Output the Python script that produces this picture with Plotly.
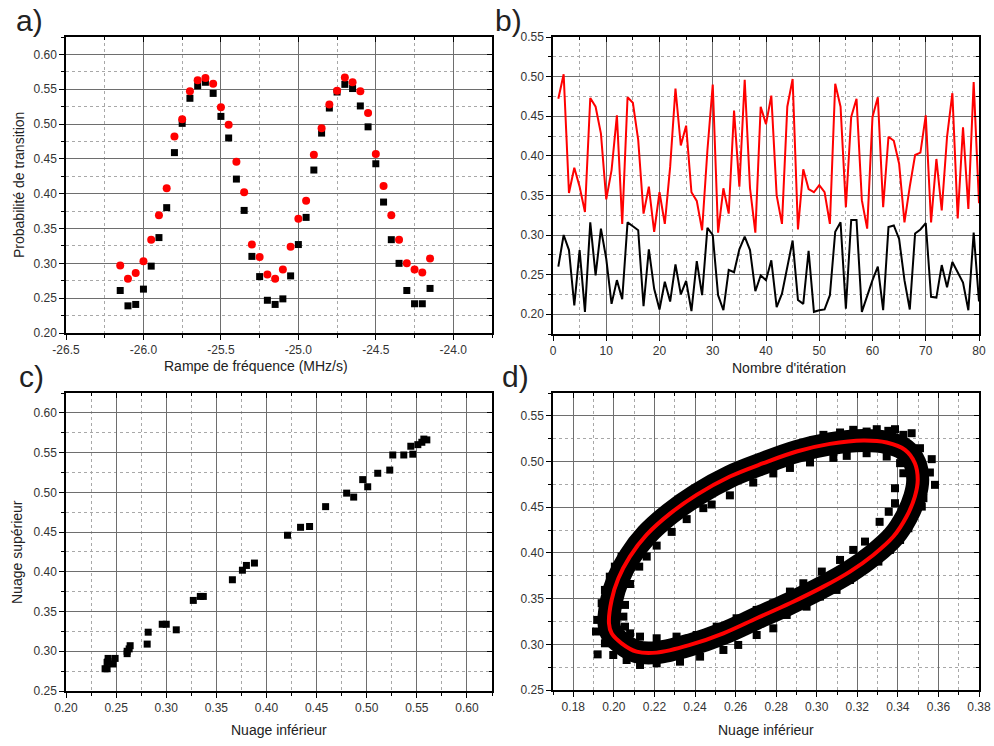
import plotly.graph_objects as go

# ---------------- data ----------------
# panel a: frequency ramp (MHz/s)
ramp = [-26.15, -26.10, -26.05, -26.00, -25.95, -25.90, -25.85, -25.80, -25.75, -25.70,
        -25.65, -25.60, -25.55, -25.50, -25.45, -25.40, -25.35, -25.30, -25.25, -25.20,
        -25.15, -25.10, -25.05, -25.00, -24.95, -24.90, -24.85, -24.80, -24.75, -24.70,
        -24.65, -24.60, -24.55, -24.50, -24.45, -24.40, -24.35, -24.30, -24.25, -24.20,
        -24.15]
p_upper = [0.297, 0.278, 0.286, 0.303, 0.334, 0.369, 0.408, 0.482, 0.507, 0.547,
           0.563, 0.566, 0.558, 0.524, 0.499, 0.446, 0.402, 0.327, 0.309, 0.284,
           0.278, 0.291, 0.324, 0.364, 0.390, 0.456, 0.494, 0.528, 0.548, 0.567,
           0.560, 0.547, 0.516, 0.457, 0.411, 0.369, 0.334, 0.300, 0.291, 0.287,
           0.307]
p_lower = [0.261, 0.239, 0.241, 0.263, 0.296, 0.337, 0.380, 0.459, 0.501, 0.537,
           0.555, 0.560, 0.544, 0.511, 0.480, 0.421, 0.376, 0.310, 0.281, 0.247,
           0.241, 0.249, 0.282, 0.327, 0.366, 0.434, 0.487, 0.523, 0.546, 0.557,
           0.551, 0.526, 0.496, 0.443, 0.388, 0.334, 0.300, 0.261, 0.242, 0.242,
           0.264]
ramp_ticks = [-26.5, -26.0, -25.5, -25.0, -24.5, -24.0]
ramp_ticktext = ["-26.5", "-26.0", "-25.5", "-25.0", "-24.5", "-24.0"]

# panel b: iterations
iteration = list(range(1, 81))
b_upper = [0.472, 0.503, 0.353, 0.385, 0.361, 0.329, 0.473, 0.462, 0.428, 0.345,
           0.382, 0.451, 0.314, 0.474, 0.467, 0.420, 0.327, 0.361, 0.304, 0.354,
           0.314, 0.386, 0.485, 0.413, 0.438, 0.354, 0.343, 0.306, 0.407, 0.490,
           0.303, 0.359, 0.327, 0.457, 0.361, 0.496, 0.359, 0.303, 0.462, 0.440,
           0.476, 0.350, 0.314, 0.462, 0.497, 0.307, 0.383, 0.358, 0.354, 0.363,
           0.354, 0.314, 0.491, 0.462, 0.335, 0.449, 0.472, 0.344, 0.308, 0.449,
           0.474, 0.335, 0.424, 0.419, 0.390, 0.316, 0.361, 0.401, 0.404, 0.451,
           0.316, 0.396, 0.331, 0.424, 0.479, 0.321, 0.436, 0.333, 0.493, 0.340]
b_lower = [0.260, 0.300, 0.281, 0.211, 0.281, 0.203, 0.316, 0.249, 0.308, 0.270,
           0.213, 0.243, 0.219, 0.316, 0.311, 0.306, 0.210, 0.282, 0.232, 0.206,
           0.241, 0.216, 0.263, 0.225, 0.242, 0.204, 0.267, 0.224, 0.309, 0.300,
           0.224, 0.205, 0.256, 0.253, 0.282, 0.298, 0.281, 0.229, 0.249, 0.243,
           0.268, 0.209, 0.226, 0.260, 0.293, 0.218, 0.213, 0.280, 0.203, 0.205,
           0.206, 0.224, 0.304, 0.316, 0.207, 0.319, 0.319, 0.203, 0.224, 0.243,
           0.260, 0.205, 0.310, 0.312, 0.295, 0.243, 0.206, 0.302, 0.307, 0.315,
           0.222, 0.221, 0.262, 0.234, 0.266, 0.253, 0.240, 0.205, 0.303, 0.216]

# panel d: ellipse fit
fit_x = [0.1976, 0.1989, 0.2022, 0.2079, 0.2162, 0.2277, 0.2408, 0.2572, 0.2737, 0.2901,
         0.3065, 0.3230, 0.3345, 0.3435, 0.3484, 0.3498, 0.3484, 0.3443, 0.3378, 0.3279,
         0.3164, 0.3033, 0.2868, 0.2704, 0.2540, 0.2375, 0.2211, 0.2112, 0.2038, 0.1989,
         0.1976]
fit_y = [0.3230, 0.3485, 0.3720, 0.3960, 0.4200, 0.4430, 0.4635, 0.4836, 0.4982, 0.5110,
         0.5193, 0.5230, 0.5208, 0.5128, 0.4982, 0.4800, 0.4617, 0.4398, 0.4179, 0.3978,
         0.3796, 0.3631, 0.3449, 0.3285, 0.3120, 0.2993, 0.2909, 0.2920, 0.3011, 0.3120,
         0.3230]
# panel d: measured cloud (outer and inner edges of the band)
cloud_x = [0.1920, 0.1912, 0.1918, 0.1940, 0.1956, 0.1980, 0.2005, 0.2038, 0.2080, 0.2129,
           0.2178, 0.2227, 0.2293, 0.2375, 0.2441, 0.2507, 0.2556, 0.2622, 0.2704, 0.2786,
           0.2835, 0.2917, 0.2983, 0.3033, 0.3115, 0.3180, 0.3246, 0.3296, 0.3353, 0.3386,
           0.3427, 0.3468, 0.3509, 0.3567, 0.3558, 0.3583, 0.3526, 0.3518, 0.3468, 0.3452,
           0.3411, 0.3361, 0.3304, 0.3213, 0.3164, 0.3098, 0.3016, 0.2950, 0.2852, 0.2786,
           0.2704, 0.2613, 0.2540, 0.2425, 0.2326, 0.2211, 0.2129, 0.2063, 0.1997, 0.1956,
           0.2047, 0.2055, 0.2080, 0.2125, 0.2162, 0.2211, 0.2285, 0.2359, 0.2441, 0.2482,
           0.2572, 0.2687, 0.2786, 0.2868, 0.2967, 0.3082, 0.3148, 0.3246, 0.3345, 0.3411,
           0.3427, 0.3386, 0.3386, 0.3355, 0.3310, 0.3238, 0.3180, 0.3115, 0.3025, 0.2934,
           0.2868, 0.2786, 0.2704, 0.2605, 0.2507, 0.2408, 0.2309, 0.2211, 0.2129, 0.2080,
           0.2055]
cloud_y = [0.2890, 0.3140, 0.3267, 0.3450, 0.3595, 0.3740, 0.3850, 0.3960, 0.4070, 0.4180,
           0.4250, 0.4340, 0.4434, 0.4562, 0.4653, 0.4745, 0.4828, 0.4909, 0.4964, 0.5073,
           0.5128, 0.5182, 0.5230, 0.5292, 0.5318, 0.5347, 0.5328, 0.5354, 0.5336, 0.5354,
           0.5292, 0.5310, 0.5146, 0.5026, 0.4880, 0.4745, 0.4599, 0.4507, 0.4398, 0.4270,
           0.4142, 0.4033, 0.3905, 0.3814, 0.3704, 0.3595, 0.3522, 0.3412, 0.3321, 0.3175,
           0.3102, 0.2993, 0.2938, 0.2865, 0.2810, 0.2792, 0.2774, 0.2828, 0.2883, 0.3011,
           0.3303, 0.3431, 0.3660, 0.3850, 0.3960, 0.4080, 0.4230, 0.4370, 0.4490, 0.4530,
           0.4630, 0.4770, 0.4870, 0.4930, 0.4990, 0.5040, 0.5062, 0.5091, 0.5055, 0.4982,
           0.4872, 0.4708, 0.4544, 0.4450, 0.4340, 0.4124, 0.4033, 0.3923, 0.3796, 0.3668,
           0.3577, 0.3449, 0.3376, 0.3285, 0.3193, 0.3102, 0.3084, 0.3066, 0.3084, 0.3120,
           0.3193]

# ---------------- figure ----------------
FONT = "Liberation Sans, Arial, sans-serif"
RED = "#ff0000"
fig = go.Figure()

# a
fig.add_trace(go.Scatter(x=ramp, y=p_lower, mode="markers", xaxis="x", yaxis="y",
                         marker=dict(symbol="square", size=7, color="black")))
fig.add_trace(go.Scatter(x=ramp, y=p_upper, mode="markers", xaxis="x", yaxis="y",
                         marker=dict(symbol="circle", size=8, color=RED)))
# b
fig.add_trace(go.Scatter(x=iteration, y=b_upper, mode="lines", xaxis="x2", yaxis="y2",
                         line=dict(color=RED, width=2)))
fig.add_trace(go.Scatter(x=iteration, y=b_lower, mode="lines", xaxis="x2", yaxis="y2",
                         line=dict(color="black", width=2)))
# c
fig.add_trace(go.Scatter(x=p_lower, y=p_upper, mode="markers", xaxis="x3", yaxis="y3",
                         marker=dict(symbol="square", size=7, color="black")))
# d
fig.add_trace(go.Scatter(x=fit_x, y=fit_y, mode="lines", xaxis="x4", yaxis="y4",
                         line=dict(color="black", width=23, shape="spline")))
fig.add_trace(go.Scatter(x=cloud_x, y=cloud_y, mode="markers", xaxis="x4", yaxis="y4",
                         marker=dict(symbol="square", size=8, color="black")))
fig.add_trace(go.Scatter(x=fit_x, y=fit_y, mode="lines", xaxis="x4", yaxis="y4",
                         line=dict(color=RED, width=4, shape="spline")))

W, H = 994, 746
def dx(a, b):
    return [a / W, b / W]
def dy(top, bottom):
    return [1 - bottom / H, 1 - top / H]

panels = {
    1: dict(xd=dx(66, 492), yd=dy(37, 333),
            xr=[-26.5, -23.75], xdt=0.5, x0=-26.5, xm=0.25, xfmt=".1f",
            yr=[0.2, 0.625], ydt=0.05, y0=0.2, ym=0.025),
    2: dict(xd=dx(553, 979), yd=dy(37, 334),
            xr=[0, 80], xdt=10, x0=0, xm=5, xfmt="d",
            yr=[0.175, 0.55], ydt=0.05, y0=0.2, ym=0.025),
    3: dict(xd=dx(66, 492), yd=dy(393, 691),
            xr=[0.2, 0.625], xdt=0.05, x0=0.2, xm=0.025, xfmt=".2f",
            yr=[0.25, 0.625], ydt=0.05, y0=0.25, ym=0.025),
    4: dict(xd=dx(553, 979), yd=dy(393, 690),
            xr=[0.17, 0.38], xdt=0.02, x0=0.18, xm=0.01, xfmt=".2f",
            yr=[0.25, 0.575], ydt=0.05, y0=0.25, ym=0.025),
}

tickfont = dict(family=FONT, size=12, color="#333333")
layout = dict(
    width=W, height=H, margin=dict(l=0, r=0, t=0, b=0, autoexpand=False),
    paper_bgcolor="white", plot_bgcolor="white", showlegend=False,
    font=dict(family=FONT, color="#222222"),
)

def axis_common(rng, dt, t0, mn, fmt, dom, anchor):
    return dict(
        domain=dom, anchor=anchor, range=rng, tick0=t0, dtick=dt, tickformat=fmt,
        automargin=False,
        showgrid=True, gridcolor="#6e6e6e", gridwidth=1, zeroline=False,
        showline=True, linecolor="black", linewidth=1.5,
        ticks="outside", ticklen=5, tickwidth=1, tickcolor="black",
        tickfont=tickfont,
        minor=dict(dtick=mn, tick0=t0, showgrid=True, gridcolor="#a8a8a8",
                   griddash="dot", gridwidth=1, ticks="outside", ticklen=3,
                   tickcolor="black"),
    )

for i, p in panels.items():
    xs = "xaxis" if i == 1 else f"xaxis{i}"
    ys = "yaxis" if i == 1 else f"yaxis{i}"
    xa = "x" if i == 1 else f"x{i}"
    ya = "y" if i == 1 else f"y{i}"
    layout[xs] = axis_common(p["xr"], p["xdt"], p["x0"], p["xm"], p["xfmt"], p["xd"], ya)
    layout[ys] = axis_common(p["yr"], p["ydt"], p["y0"], p["ym"], ".2f", p["yd"], xa)
    # mirrored axes (top / right) with inside ticks
    j = i + 4
    layout[f"xaxis{j}"] = dict(
        overlaying=xa, anchor=ya, side="top", range=p["xr"], tick0=p["x0"], dtick=p["xdt"],
        automargin=False,
        showgrid=False, zeroline=False, showline=True, linecolor="black", linewidth=1.5,
        ticks="inside", ticklen=5, tickcolor="black", showticklabels=False,
        minor=dict(dtick=p["xm"], tick0=p["x0"], ticks="inside", ticklen=3, tickcolor="black"))
    layout[f"yaxis{j}"] = dict(
        overlaying=ya, anchor=xa, side="right", range=p["yr"], tick0=p["y0"], dtick=p["ydt"],
        automargin=False,
        showgrid=False, zeroline=False, showline=True, linecolor="black", linewidth=1.5,
        ticks="inside", ticklen=5, tickcolor="black", showticklabels=False,
        minor=dict(dtick=p["ym"], tick0=p["y0"], ticks="inside", ticklen=3, tickcolor="black"))

layout["xaxis"]["tickmode"] = "array"
layout["xaxis"]["tickvals"] = ramp_ticks
layout["xaxis"]["ticktext"] = ramp_ticktext

fig.update_layout(**layout)

# invisible anchor traces so the mirrored axes are drawn
for i, p in panels.items():
    fig.add_trace(go.Scatter(x=[p["xr"][0]], y=[p["yr"][0]], mode="markers",
                             marker=dict(opacity=0, size=1), hoverinfo="skip",
                             xaxis=f"x{i+4}", yaxis=f"y{i+4}"))

def ann(text, x, y, size, angle=0, xanchor="center"):
    fig.add_annotation(text=text, x=x / W, y=1 - y / H, xref="paper", yref="paper",
                       showarrow=False, textangle=angle, xanchor=xanchor, yanchor="middle",
                       font=dict(family=FONT, size=size, color="#222222"))

ann("a)", 14, 20, 30, xanchor="left")
ann("b)", 493, 20, 30, xanchor="left")
ann("c)", 17, 376, 30, xanchor="left")
ann("d)", 500, 376, 30, xanchor="left")
ann("Probabilité de transition", 19, 185, 14, angle=-90)
ann("Rampe de fréquence (MHz/s)", 256, 366, 14)
ann("Nombre d'itération", 789, 368, 14)
ann("Nuage supérieur", 17, 552, 14, angle=-90)
ann("Nuage inférieur", 279, 730, 14)
ann("Nuage inférieur", 766, 730, 14)

fig.write_html("out.html", config={"displayModeBar": False},
               post_script="document.body.style.margin='0';")
